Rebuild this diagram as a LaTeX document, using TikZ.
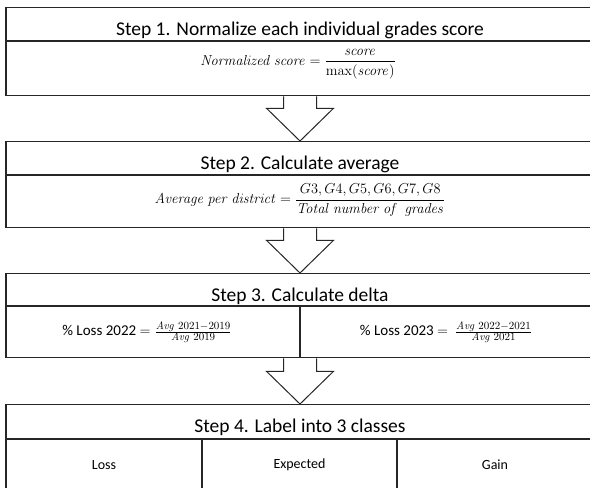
\documentclass[tikz,border=0pt]{standalone}
\usepackage[no-math]{fontspec}
\setmainfont{Carlito}
\usetikzlibrary{calc}
\begin{document}
\begin{tikzpicture}[x=1pt,y=-1pt,
  boxline/.style={draw=black!85, line width=1.3pt},
  stepbox/.style={boxline, rectangle, minimum width=588pt, inner sep=0pt, anchor=north},
  ttl/.style={font=\fontsize{19.5}{22}\selectfont, anchor=base, inner sep=0pt},
  fml/.style={font=\fontsize{15.2}{17}\selectfont, inner sep=0pt},
  dfml/.style={font=\fontsize{15}{17}\selectfont, inner sep=0pt},
  lbl/.style={font=\fontsize{14}{16}\selectfont, inner sep=0pt},
  blockarrow/.style={draw=black!85, line width=1pt, line join=miter}]
\useasboundingbox (0,0) rectangle (590,488);
\clip (0,0) rectangle (590,488);
\fill[white] (0,0) rectangle (590,488);

% boxes
\node[stepbox, minimum height=88pt] (b1) at (300,7) {};
\node[stepbox, minimum height=86pt] (b2) at (300,141) {};
\node[stepbox, minimum height=84pt] (b3) at (300,273) {};
\node[stepbox, minimum height=90pt] (b4) at (300,404) {};

% dividers
\draw[boxline] (b1.west |- 0,41) -- (b1.east |- 0,41);
\draw[boxline] (b2.west |- 0,175) -- (b2.east |- 0,175);
\draw[boxline] (b3.west |- 0,306) -- (b3.east |- 0,306);
\draw[boxline] (b4.west |- 0,439) -- (b4.east |- 0,439);
\draw[boxline] (300,306) -- (b3.south);
\coordinate (c4a) at (202,439);
\coordinate (c4b) at (397,439);
\draw[boxline] (c4a) -- (c4a |- b4.south);
\draw[boxline] (c4b) -- (c4b |- b4.south);

% block arrows
\draw[blockarrow] ($(b1.south)+(-16.5,0)$) -- ($(b1.south)+(-16.5,12)$) -- ($(b1.south)+(-33.5,12)$) -- (b2.north) -- ($(b1.south)+(33.5,12)$) -- ($(b1.south)+(16.5,12)$) -- ($(b1.south)+(16.5,0)$);
\draw[blockarrow] ($(b2.south)+(-16.5,0)$) -- ($(b2.south)+(-16.5,12)$) -- ($(b2.south)+(-33.5,12)$) -- (b3.north) -- ($(b2.south)+(33.5,12)$) -- ($(b2.south)+(16.5,12)$) -- ($(b2.south)+(16.5,0)$);
\draw[blockarrow] ($(b3.south)+(-16.5,0)$) -- ($(b3.south)+(-16.5,13)$) -- ($(b3.south)+(-33.5,13)$) -- (b4.north) -- ($(b3.south)+(33.5,13)$) -- ($(b3.south)+(16.5,13)$) -- ($(b3.south)+(16.5,0)$);

% texts
\node[ttl] (t1) at (300,35) {Step 1. Normalize each individual grades score};
\node[fml] (f1) at (298,64) {$\displaystyle \mathit{Normalized\ score} = \frac{\mathit{score}}{\max(\mathit{score})}$};

\node[ttl] (t2) at (300,169) {Step 2. Calculate average};
\node[fml] (f2) at (300,200) {$\displaystyle \mathit{Average\ per\ district} = \frac{G3, G4, G5, G6, G7, G8}{\mathit{Total\ number\ of\ \ grades}}$};

\node[ttl] (t3) at (300,301) {Step 3. Calculate delta};
\node[dfml] (f3a) at (147,332) {\% Loss 2022 $=\frac{\mathit{Avg}\ 2021-2019}{\mathit{Avg}\ 2019}$};
\node[dfml] (f3b) at (446,332) {\% Loss 2023 $=$\ \ $\frac{\mathit{Avg}\ 2022-2021}{\mathit{Avg}\ 2021}$};

\node[ttl] (t4) at (300,432) {Step 4. Label into 3 classes};
\node[lbl] (l1) at (104,465) {Loss};
\node[lbl] (l2) at (299.5,465) {Expected};
\node[lbl] (l3) at (495,465) {Gain};
\end{tikzpicture}
\end{document}
